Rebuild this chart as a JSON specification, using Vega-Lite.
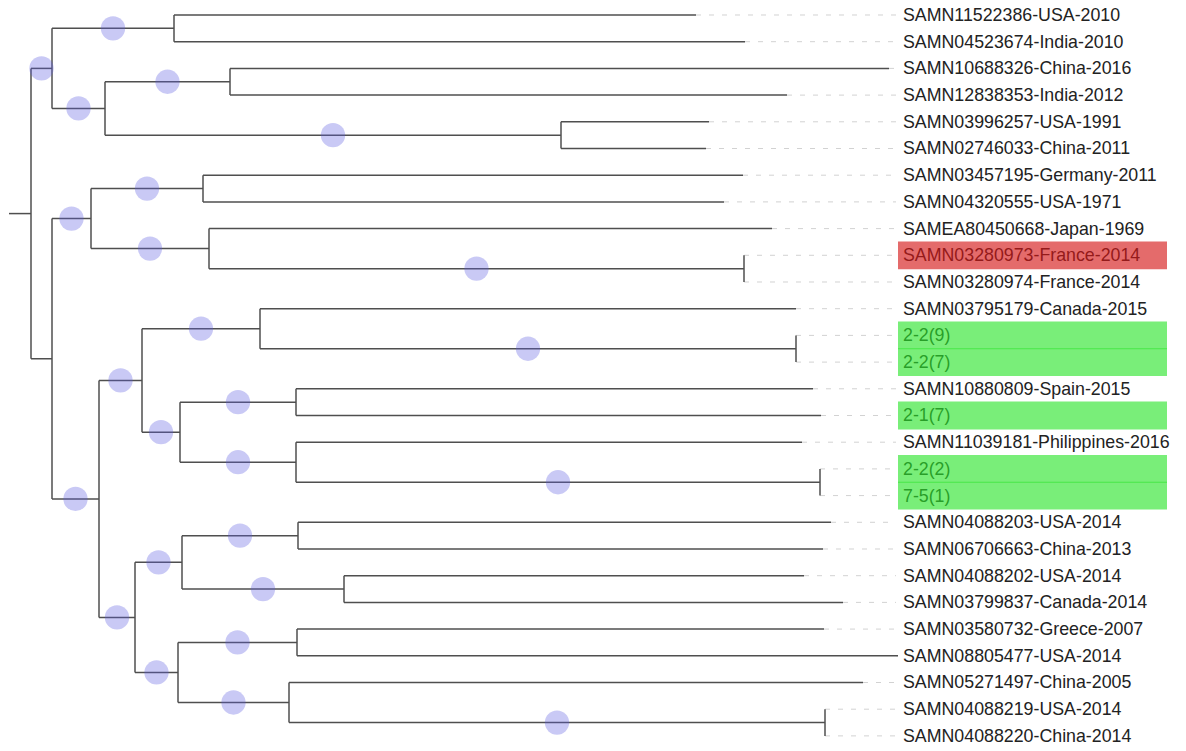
{
  "$schema": "https://vega.github.io/schema/vega-lite/v6.json",
  "width": 1186,
  "height": 751,
  "autosize": "none",
  "padding": 0,
  "background": "white",
  "config": {"view": {"stroke": null}},
  "data": {"values": [
    {"id":"R","x":31,"px":9,"y":7.4375,"ylo":2,"yhi":12.875,"circ":false,"leaf":false},
    {"id":"A","x":52,"px":31,"y":2,"ylo":0.5,"yhi":3.5,"circ":true,"leaf":false},
    {"id":"A1","x":174,"px":52,"y":0.5,"ylo":0,"yhi":1,"circ":true,"leaf":false},
    {"id":"A2","x":105,"px":52,"y":3.5,"ylo":2.5,"yhi":4.5,"circ":true,"leaf":false},
    {"id":"A2a","x":230,"px":105,"y":2.5,"ylo":2,"yhi":3,"circ":true,"leaf":false},
    {"id":"A2b","x":561,"px":105,"y":4.5,"ylo":4,"yhi":5,"circ":true,"leaf":false},
    {"id":"B","x":52,"px":31,"y":12.875,"ylo":7.625,"yhi":18.125,"circ":false,"leaf":false},
    {"id":"B1","x":91,"px":52,"y":7.625,"ylo":6.5,"yhi":8.75,"circ":true,"leaf":false},
    {"id":"B1a","x":203,"px":91,"y":6.5,"ylo":6,"yhi":7,"circ":true,"leaf":false},
    {"id":"B1b","x":209,"px":91,"y":8.75,"ylo":8,"yhi":9.5,"circ":true,"leaf":false},
    {"id":"B1b2","x":744,"px":209,"y":9.5,"ylo":9,"yhi":10,"circ":true,"leaf":false},
    {"id":"B2","x":99,"px":52,"y":18.125,"ylo":13.6875,"yhi":22.5625,"circ":true,"leaf":false},
    {"id":"B2a","x":142,"px":99,"y":13.6875,"ylo":11.75,"yhi":15.625,"circ":true,"leaf":false},
    {"id":"B2a1","x":260,"px":142,"y":11.75,"ylo":11,"yhi":12.5,"circ":true,"leaf":false},
    {"id":"B2a1b","x":796,"px":260,"y":12.5,"ylo":12,"yhi":13,"circ":true,"leaf":false},
    {"id":"B2a2","x":180,"px":142,"y":15.625,"ylo":14.5,"yhi":16.75,"circ":true,"leaf":false},
    {"id":"B2a2a","x":296,"px":180,"y":14.5,"ylo":14,"yhi":15,"circ":true,"leaf":false},
    {"id":"B2a2b","x":296,"px":180,"y":16.75,"ylo":16,"yhi":17.5,"circ":true,"leaf":false},
    {"id":"B2a2b2","x":820,"px":296,"y":17.5,"ylo":17,"yhi":18,"circ":true,"leaf":false},
    {"id":"B2b","x":135,"px":99,"y":22.5625,"ylo":20.5,"yhi":24.625,"circ":true,"leaf":false},
    {"id":"B2b1","x":182,"px":135,"y":20.5,"ylo":19.5,"yhi":21.5,"circ":true,"leaf":false},
    {"id":"B2b1a","x":298,"px":182,"y":19.5,"ylo":19,"yhi":20,"circ":true,"leaf":false},
    {"id":"B2b1b","x":344,"px":182,"y":21.5,"ylo":21,"yhi":22,"circ":true,"leaf":false},
    {"id":"B2b2","x":178,"px":135,"y":24.625,"ylo":23.5,"yhi":25.75,"circ":true,"leaf":false},
    {"id":"B2b2a","x":297,"px":178,"y":23.5,"ylo":23,"yhi":24,"circ":true,"leaf":false},
    {"id":"B2b2b","x":289,"px":178,"y":25.75,"ylo":25,"yhi":26.5,"circ":true,"leaf":false},
    {"id":"B2b2b2","x":825,"px":289,"y":26.5,"ylo":26,"yhi":27,"circ":true,"leaf":false},
    {"id":"L0","x":696,"px":174,"y":0,"leaf":true,"circ":false,"label":"SAMN11522386-USA-2010"},
    {"id":"L1","x":745,"px":174,"y":1,"leaf":true,"circ":false,"label":"SAMN04523674-India-2010"},
    {"id":"L2","x":889,"px":230,"y":2,"leaf":true,"circ":false,"label":"SAMN10688326-China-2016"},
    {"id":"L3","x":787,"px":230,"y":3,"leaf":true,"circ":false,"label":"SAMN12838353-India-2012"},
    {"id":"L4","x":709,"px":561,"y":4,"leaf":true,"circ":false,"label":"SAMN03996257-USA-1991"},
    {"id":"L5","x":706,"px":561,"y":5,"leaf":true,"circ":false,"label":"SAMN02746033-China-2011"},
    {"id":"L6","x":743,"px":203,"y":6,"leaf":true,"circ":false,"label":"SAMN03457195-Germany-2011"},
    {"id":"L7","x":724,"px":203,"y":7,"leaf":true,"circ":false,"label":"SAMN04320555-USA-1971"},
    {"id":"L8","x":772,"px":209,"y":8,"leaf":true,"circ":false,"label":"SAMEA80450668-Japan-1969"},
    {"id":"L9","x":744,"px":744,"y":9,"leaf":true,"circ":false,"label":"SAMN03280973-France-2014","hl":"red"},
    {"id":"L10","x":744,"px":744,"y":10,"leaf":true,"circ":false,"label":"SAMN03280974-France-2014"},
    {"id":"L11","x":796,"px":260,"y":11,"leaf":true,"circ":false,"label":"SAMN03795179-Canada-2015"},
    {"id":"L12","x":796,"px":796,"y":12,"leaf":true,"circ":false,"label":"2-2(9)","hl":"green"},
    {"id":"L13","x":796,"px":796,"y":13,"leaf":true,"circ":false,"label":"2-2(7)","hl":"green"},
    {"id":"L14","x":813,"px":296,"y":14,"leaf":true,"circ":false,"label":"SAMN10880809-Spain-2015"},
    {"id":"L15","x":821,"px":296,"y":15,"leaf":true,"circ":false,"label":"2-1(7)","hl":"green"},
    {"id":"L16","x":802,"px":296,"y":16,"leaf":true,"circ":false,"label":"SAMN11039181-Philippines-2016"},
    {"id":"L17","x":820,"px":820,"y":17,"leaf":true,"circ":false,"label":"2-2(2)","hl":"green"},
    {"id":"L18","x":820,"px":820,"y":18,"leaf":true,"circ":false,"label":"7-5(1)","hl":"green"},
    {"id":"L19","x":831,"px":298,"y":19,"leaf":true,"circ":false,"label":"SAMN04088203-USA-2014"},
    {"id":"L20","x":823,"px":298,"y":20,"leaf":true,"circ":false,"label":"SAMN06706663-China-2013"},
    {"id":"L21","x":804,"px":344,"y":21,"leaf":true,"circ":false,"label":"SAMN04088202-USA-2014"},
    {"id":"L22","x":843,"px":344,"y":22,"leaf":true,"circ":false,"label":"SAMN03799837-Canada-2014"},
    {"id":"L23","x":824,"px":297,"y":23,"leaf":true,"circ":false,"label":"SAMN03580732-Greece-2007"},
    {"id":"L24","x":898,"px":297,"y":24,"leaf":true,"circ":false,"label":"SAMN08805477-USA-2014"},
    {"id":"L25","x":863,"px":289,"y":25,"leaf":true,"circ":false,"label":"SAMN05271497-China-2005"},
    {"id":"L26","x":825,"px":825,"y":26,"leaf":true,"circ":false,"label":"SAMN04088219-USA-2014"},
    {"id":"L27","x":825,"px":825,"y":27,"leaf":true,"circ":false,"label":"SAMN04088220-China-2014"}
  ]},
  "layer": [
    {
      "transform": [{"filter": "datum.leaf"}],
      "mark": {"type": "rule", "color": "#d2d2d2", "strokeWidth": 1, "strokeDash": [5, 8]},
      "encoding": {
        "x": {"field": "x", "type": "quantitative", "scale": {"domain": [0, 1186], "nice": false, "zero": false}, "axis": null},
        "x2": {"datum": 896},
        "y": {"field": "y", "type": "quantitative", "scale": {"domain": [-0.5618, 27.566], "nice": false, "zero": false, "reverse": true}, "axis": null}
      }
    },
    {
      "mark": {"type": "rule", "color": "#4f4f4f", "strokeWidth": 1.5},
      "encoding": {
        "x": {"field": "px", "type": "quantitative", "scale": {"domain": [0, 1186], "nice": false, "zero": false}, "axis": null},
        "x2": {"field": "x"},
        "y": {"field": "y", "type": "quantitative", "scale": {"domain": [-0.5618, 27.566], "nice": false, "zero": false, "reverse": true}, "axis": null}
      }
    },
    {
      "transform": [{"filter": "!datum.leaf"}],
      "mark": {"type": "rule", "color": "#4f4f4f", "strokeWidth": 1.5},
      "encoding": {
        "x": {"field": "x", "type": "quantitative", "scale": {"domain": [0, 1186], "nice": false, "zero": false}, "axis": null},
        "y": {"field": "ylo", "type": "quantitative", "scale": {"domain": [-0.5618, 27.566], "nice": false, "zero": false, "reverse": true}, "axis": null},
        "y2": {"field": "yhi"}
      }
    },
    {
      "transform": [{"filter": "datum.circ"}, {"calculate": "(datum.px + datum.x) / 2", "as": "mid"}],
      "mark": {"type": "circle", "size": 590, "color": "#5c5ce0", "opacity": 0.33},
      "encoding": {
        "x": {"field": "mid", "type": "quantitative", "scale": {"domain": [0, 1186], "nice": false, "zero": false}, "axis": null},
        "y": {"field": "y", "type": "quantitative", "scale": {"domain": [-0.5618, 27.566], "nice": false, "zero": false, "reverse": true}, "axis": null}
      }
    },
    {
      "transform": [{"filter": "datum.leaf"}],
      "mark": {"type": "text", "align": "left", "baseline": "middle", "fontSize": 17.8, "font": "Liberation Sans", "color": "#222222", "dy": 1},
      "encoding": {
        "x": {"datum": 903, "type": "quantitative", "scale": {"domain": [0, 1186], "nice": false, "zero": false}, "axis": null},
        "y": {"field": "y", "type": "quantitative", "scale": {"domain": [-0.5618, 27.566], "nice": false, "zero": false, "reverse": true}, "axis": null},
        "text": {"field": "label"}
      }
    },
    {
      "transform": [{"filter": "datum.hl"}, {"calculate": "datum.y - 0.52", "as": "ya"}, {"calculate": "datum.y + 0.52", "as": "yb"}],
      "mark": {"type": "rect", "opacity": 0.64},
      "encoding": {
        "x": {"datum": 898, "type": "quantitative", "scale": {"domain": [0, 1186], "nice": false, "zero": false}, "axis": null},
        "x2": {"datum": 1167},
        "y": {"field": "ya", "type": "quantitative", "scale": {"domain": [-0.5618, 27.566], "nice": false, "zero": false, "reverse": true}, "axis": null},
        "y2": {"field": "yb"},
        "color": {"field": "hl", "type": "nominal", "scale": {"domain": ["red", "green"], "range": ["#d41818", "#2ee42e"]}, "legend": null}
      }
    }
  ]
}
